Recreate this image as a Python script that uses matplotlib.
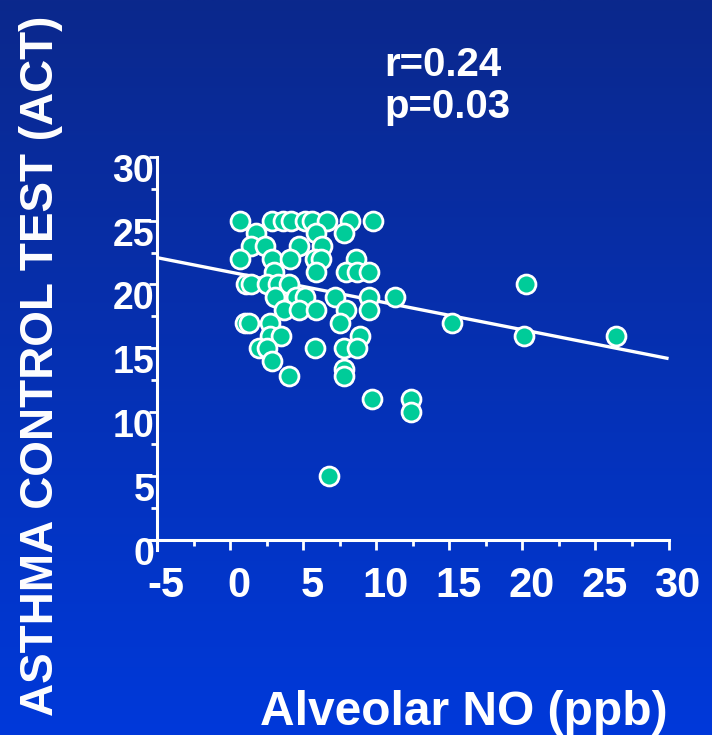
import numpy as np
import matplotlib
matplotlib.use("Agg")
import matplotlib.pyplot as plt
from matplotlib.transforms import ScaledTranslation

plt.rcParams["axes.unicode_minus"] = False

# data
no_ppb = [0.7, 2.9, 3.6, 4.2, 5.1, 5.6, 6.6, 8.2, 9.8,
          1.8, 5.9, 7.8,
          1.4, 2.4, 4.7, 6.3,
          0.7, 2.9, 4.1, 5.8, 6.2, 8.6,
          3.0, 5.9, 7.9, 8.7, 9.5,
          1.1, 1.4, 2.5, 3.3, 4.0, 20.25,
          3.1, 4.5, 5.1, 7.2, 9.5, 11.3,
          3.7, 4.7, 5.9, 7.9, 9.5,
          1.0, 1.3, 2.7, 7.5, 15.2,
          2.7, 3.5, 8.9, 20.1, 26.4,
          2.0, 2.5, 5.8, 7.8, 8.7,
          2.9, 7.8, 7.8, 4.0,
          9.7, 12.4, 12.4,
          6.8]
act = [25, 25, 25, 25, 25, 25, 25, 25, 25,
       24, 24, 24,
       23, 23, 23, 23,
       22, 22, 22, 22, 22, 22,
       21, 21, 21, 21, 21,
       20, 20, 20, 20, 20, 20,
       19, 19, 19, 19, 19, 19,
       18, 18, 18, 18, 18,
       17, 17, 17, 17, 17,
       16, 16, 16, 16, 16,
       15, 15, 15, 15, 15,
       14, 13.4, 12.8, 12.8,
       11, 11, 10,
       5]

fit_x = [-5, 30]
fit_y = [22.1, 14.2]

stats_text = ["r=0.24", "p=0.03"]
x_ticks = [-5, 0, 5, 10, 15, 20, 25, 30]
y_ticks = [0, 5, 10, 15, 20, 25, 30]

# =========================
# FIGURE + BACKGROUND
# =========================
fig = plt.figure(figsize=(7.12, 7.35), dpi=100)
bg = fig.add_axes([0, 0, 1, 1], zorder=-10)
top_c = np.array([11, 40, 140]) / 255
bot_c = np.array([0, 57, 218]) / 255
grad = np.linspace(0, 1, 256)[:, None, None]
img = top_c * (1 - grad) + bot_c * grad
bg.imshow(np.repeat(img, 2, axis=1), aspect="auto", extent=[0, 1, 0, 1])
bg.axis("off")

font = "Liberation Sans"
ax = fig.add_axes([0.2102, 0.2514, 0.7288, 0.5354])
ax.set_facecolor("none")

# =========================
# SCATTER + FIT LINE
# =========================
ax.plot(fit_x, fit_y, color="white", lw=2.4, zorder=2, solid_capstyle="butt")
ax.scatter(no_ppb, act, s=185, color="#00CC99", edgecolors="white",
           linewidths=2.0, zorder=3, clip_on=False)

ax.set_xlim(-5.5, 30)
ax.set_ylim(-0.8, 30)

for side in ["top", "right"]:
    ax.spines[side].set_visible(False)
ax.spines["left"].set_position(("data", -5))
ax.spines["bottom"].set_position(("data", 0))
for side in ["left", "bottom"]:
    ax.spines[side].set_color("white")
    ax.spines[side].set_linewidth(2.2)

ax.set_xticks(x_ticks)
ax.set_yticks(y_ticks)
ax.set_xticks(np.arange(-2.5, 30, 5), minor=True)
ax.set_yticks(np.arange(2.5, 30, 5), minor=True)
ax.tick_params(axis="x", which="major", length=7, width=2, color="white",
               labelcolor="white", labelsize=30, pad=12)
ax.tick_params(axis="x", which="minor", length=4, width=2, color="white")
ax.tick_params(axis="y", which="major", length=6, width=2, color="white",
               labelcolor="white", labelsize=27, pad=-4)
ax.tick_params(axis="y", which="minor", length=4, width=2, color="white")

for lab in ax.get_xticklabels():
    lab.set_fontfamily(font)
    lab.set_fontweight("bold")
    lab.set_transform(lab.get_transform() + ScaledTranslation(9 / 100, 0, fig.dpi_scale_trans))
for lab in ax.get_yticklabels():
    lab.set_fontfamily(font)
    lab.set_fontweight("bold")
    lab.set_transform(lab.get_transform() + ScaledTranslation(0, -11 / 100, fig.dpi_scale_trans))

# =========================
# TEXTS
# =========================
fig.text(384 / 712, 1 - 76 / 735, stats_text[0], color="white", fontsize=29,
         fontweight="bold", family=font, ha="left", va="baseline")
fig.text(384 / 712, 1 - 118 / 735, stats_text[1], color="white", fontsize=29,
         fontweight="bold", family=font, ha="left", va="baseline")

fig.text(260 / 712, 1 - 725 / 735, "Alveolar NO (ppb)", color="white",
         fontsize=34.5, fontweight="bold", family=font, ha="left", va="baseline")

fig.text(53 / 712, 1 - 366 / 735, "ASTHMA CONTROL TEST (ACT)", color="white",
         fontsize=33, fontweight="bold", family=font, rotation=90,
         rotation_mode="anchor", ha="center", va="baseline")

fig.savefig("out.png", dpi=100)
